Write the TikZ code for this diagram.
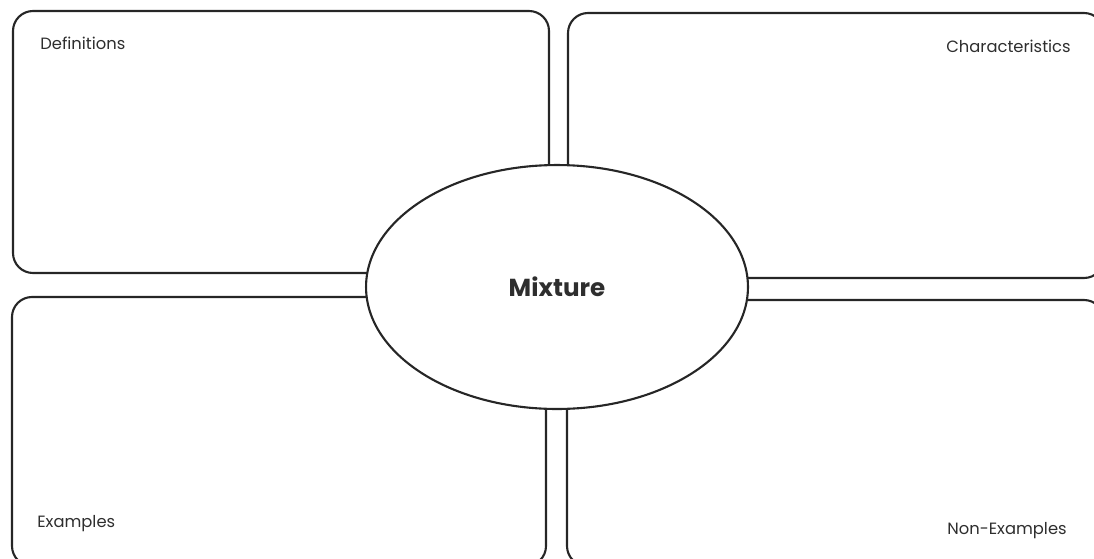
\documentclass[tikz,border=0pt]{standalone}
\usepackage{fontspec}
\setsansfont{Poppins}
\usepackage{xcolor}
\definecolor{linecolor}{HTML}{262626}
\definecolor{labelcolor}{HTML}{2E2E2E}
\usetikzlibrary{shapes.geometric}

\begin{document}
\begin{tikzpicture}[x=0.02cm, y=-0.02cm,
    framebox/.style={draw=linecolor, line width=1.2pt, rounded corners=0.4cm},
    boxlabel/.style={text=labelcolor, font=\sffamily\fontsize{9.3}{11}\selectfont, inner sep=0pt}]
  \useasboundingbox (0,0) rectangle (1094,558);
  \clip (0,0) rectangle (1094,558);
  % four boxes, the outer corners run off the page
  \draw[framebox] (13,11) rectangle (549,273);
  \draw[framebox] (568,13) rectangle (1104,278);
  \draw[framebox] (12,297) rectangle (546,566);
  \draw[framebox] (567,300) rectangle (1104,566);
  % the centre term sits on top
  \node[ellipse, draw=linecolor, line width=1.2pt, fill=white,
        minimum width=7.64cm, minimum height=4.88cm,
        text=labelcolor, font=\sffamily\bfseries\fontsize{14}{16}\selectfont] (term) at (557,287) {Mixture};
  \node[boxlabel, anchor=west] (defs)   at (40,43)   {Definitions};
  \node[boxlabel, anchor=east] (chars)  at (1071,46) {Characteristics};
  \node[boxlabel, anchor=west] (exs)    at (37,524)  {Examples};
  \node[boxlabel, anchor=east] (nonexs) at (1067,531) {Non-Examples};
\end{tikzpicture}
\end{document}
